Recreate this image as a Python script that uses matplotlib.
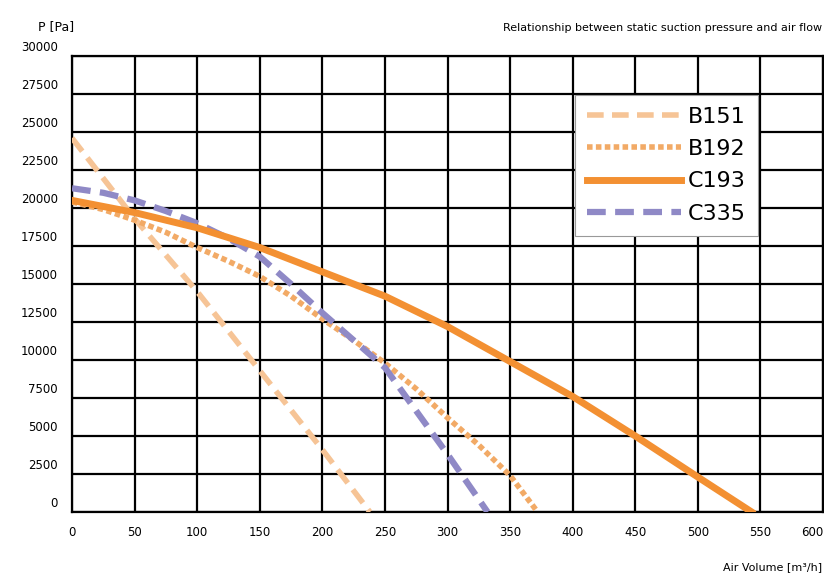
import matplotlib
matplotlib.use("Agg")
import matplotlib.pyplot as plt
import matplotlib.transforms as mtransforms

# Curve readings (air volume m3/h, pressure Pa)
b151_x = [0, 50, 100, 150, 200, 238]
b151_y = [24600, 19300, 14500, 9300, 4100, 0]

b192_x = [0, 25, 50, 75, 100, 125, 150, 175, 200, 225, 250, 275, 300, 325, 350, 372]
b192_y = [20400, 19900, 19200, 18400, 17400, 16500, 15500, 14200, 12700, 11300, 9800, 8100, 6200, 4400, 2400, 0]

c193_x = [0, 50, 100, 150, 200, 250, 300, 350, 400, 450, 500, 543]
c193_y = [20500, 19700, 18700, 17400, 15800, 14200, 12200, 9900, 7600, 5000, 2300, 0]

c335_x = [0, 25, 50, 75, 100, 125, 150, 175, 200, 225, 250, 275, 300, 332]
c335_y = [21300, 21000, 20500, 19800, 19000, 18000, 16800, 15000, 13100, 11300, 9500, 6650, 3800, 0]

x_ticks = list(range(0, 601, 50))
y_ticks = list(range(0, 30001, 2500))

fig = plt.figure(figsize=(8.24, 5.78), dpi=100)
ax = fig.add_axes([72 / 824, 66 / 578, 751 / 824, 456 / 578])

ax.plot(b151_x, b151_y, color="#f6c496", lw=4, ls=(0, (3, 1.5)), label="B151", zorder=3)
ax.plot(b192_x, b192_y, color="#f2aa66", lw=4, ls=(0, (1, 0.6)), label="B192", zorder=3)
ax.plot(c335_x, c335_y, color="#8f89c6", lw=4.5, ls=(0, (3, 1.5)), label="C335", zorder=4)
ax.plot(c193_x, c193_y, color="#f39032", lw=5, label="C193", zorder=5)

ax.set_xlim(0, 600)
ax.set_ylim(0, 30000)
ax.set_xticks(x_ticks)
ax.set_yticks(y_ticks)
ax.grid(True, color="black", lw=1.6)
ax.tick_params(length=0, labelsize=8.5, pad=10)
for sp in ax.spines.values():
    sp.set_linewidth(1.6)

# y labels sit a little above their grid lines
off = mtransforms.ScaledTranslation(0, 10 / 100, fig.dpi_scale_trans)
for lbl in ax.get_yticklabels():
    lbl.set_transform(lbl.get_transform() + off)
ax.get_xticklabels()[-1].set_horizontalalignment("right")

h, l = ax.get_legend_handles_labels()
order = [0, 1, 3, 2]
leg = ax.legend([h[i] for i in order], [l[i] for i in order],
                loc="upper left", bbox_to_anchor=(0.67, 0.915), borderaxespad=0,
                fontsize=16, handlelength=4.2, handletextpad=0.3,
                labelspacing=0.55, borderpad=0.55, fancybox=False,
                framealpha=1, edgecolor="#999999")
leg.get_frame().set_linewidth(0.8)
leg.set_zorder(10)

fig.text(38 / 824, 1 - 27 / 578, "P [Pa]", fontsize=9, ha="left", va="center")
fig.text(822 / 824, 1 - 28 / 578, "Relationship between static suction pressure and air flow",
         fontsize=8, ha="right", va="center")
fig.text(822 / 824, 1 - 567 / 578, "Air Volume [m\u00b3/h]", fontsize=8, ha="right", va="center")

fig.savefig("out.png", dpi=100, facecolor="white")
